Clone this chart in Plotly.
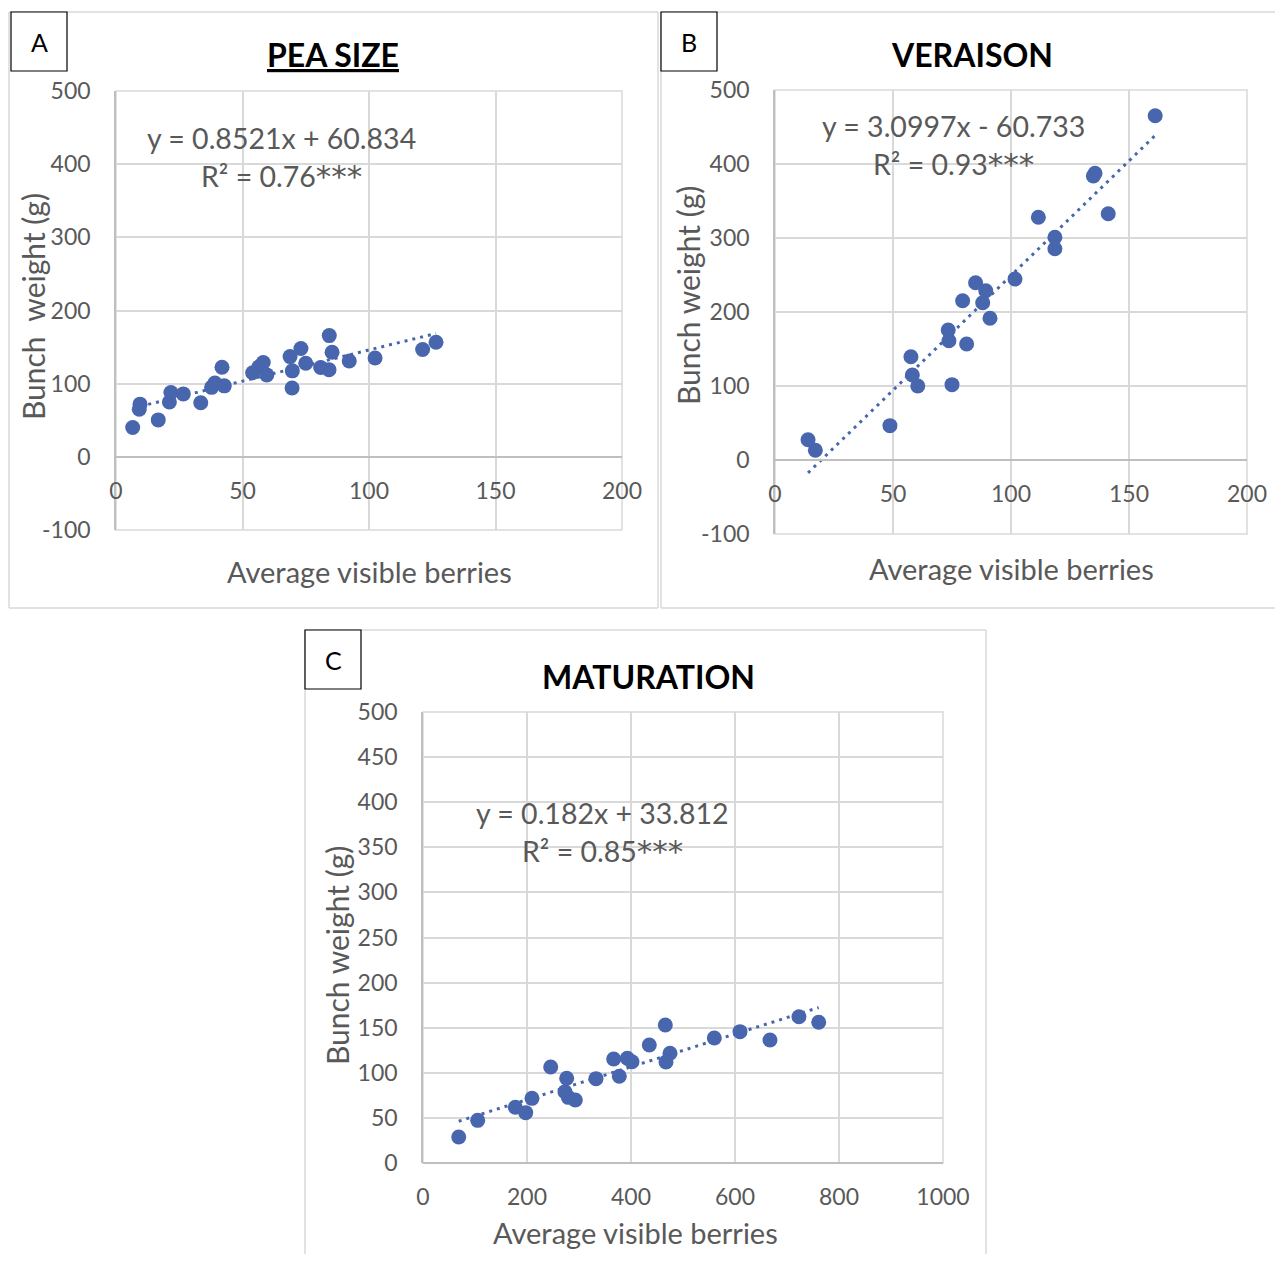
import plotly.graph_objects as go

PW, PH = 1283, 1262
OX, OY = 8, 8
W, H = PW - 2 * OX, PH - 2 * OY
FONT = "Lato"
GRAY = "#595959"
GRID = "#d9d9d9"
AXLINE = "#bfbfbf"
BLUE = "#4866ae"

# ---------------- data ----------------
pea_x = [6.6, 9.2, 9.5, 16.7, 21.1, 21.7, 26.6, 33.5, 37.8, 39.1, 41.9, 42.8, 54.0, 56.5,
         58.2, 59.6, 68.8, 69.7, 69.6, 73.1, 75.0, 80.9, 84.3, 84.2, 85.4, 92.2, 102.4, 121.2, 126.5]
pea_y = [40, 65, 72, 50.5, 75, 88, 86, 74, 95, 101, 122.5, 97, 115, 123,
         129, 112, 137, 117.5, 94, 148, 128, 122, 165.7, 119, 143, 131, 135, 146.6, 156.7]
pea_slope, pea_icpt = 0.8521, 60.834

ver_x = [14.0, 17.1, 48.7, 57.6, 58.2, 60.5, 75.0, 73.4, 73.7, 81.2, 79.5, 85.0, 89.3, 88.0,
         91.1, 101.7, 111.6, 118.6, 118.6, 134.9, 135.6, 141.2, 161.1]
ver_y = [27.4, 13.1, 46.4, 139.6, 114.9, 100, 101.8, 175.7, 161.2, 156.8, 215.3, 239.6, 228.8, 212.6,
         191.5, 244.6, 328, 301, 285.5, 383.8, 387.4, 332.8, 465.3]
ver_slope, ver_icpt = 3.0997, -60.733

mat_x = [68.7, 105.2, 177.5, 197.5, 209.6, 245.6, 276.3, 273.0, 279.4, 292.9, 332.7, 366.7, 377.5,
         392.9, 401.9, 435.2, 466.0, 475.0, 467.3, 560.2, 609.6, 667.3, 723.0, 761.0]
mat_y = [28.8, 47.3, 61.8, 55.8, 71.7, 106.4, 93.9, 79.0, 72.8, 69.8, 93.5, 115.3, 96.1,
         116.1, 112.3, 130.8, 153.0, 121.6, 112.0, 138.6, 145.6, 136.4, 162.2, 156.0]
mat_slope, mat_icpt = 0.182, 33.812

# tick labels
ab_yticks = [-100, 0, 100, 200, 300, 400, 500]
ab_yticklabels = ["-100", "0", "100", "200", "300", "400", "500"]
ab_xticks = [0, 50, 100, 150, 200]
c_yticks = [0, 50, 100, 150, 200, 250, 300, 350, 400, 450, 500]
c_xticks = [0, 200, 400, 600, 800, 1000]

titles = ["PEA SIZE", "VERAISON", "MATURATION"]
panel_letters = ["A", "B", "C"]
eq_lines = [("y = 0.8521x + 60.834", "R² = 0.76", "***"),
            ("y = 3.0997x - 60.733", "R² = 0.93", "***"),
            ("y = 0.182x + 33.812", "R² = 0.85", "***")]
ytitles = ["Bunch\u00a0 weight (g)", "Bunch weight (g)", "Bunch weight (g)"]
xtitle = "Average visible berries"


def fx(px):
    return (px - OX) / W


def fy(py):
    return 1 - (py - OY) / H


fig = go.Figure()

series = [(pea_x, pea_y, pea_slope, pea_icpt, "x", "y"),
          (ver_x, ver_y, ver_slope, ver_icpt, "x2", "y2"),
          (mat_x, mat_y, mat_slope, mat_icpt, "x3", "y3")]

for xs, ys, m, b, xa, ya in series:
    x0, x1 = min(xs), max(xs)
    fig.add_trace(go.Scatter(x=[x0, x1], y=[m * x0 + b, m * x1 + b], mode="lines",
                             line=dict(color=BLUE, width=3, dash="3px,5px"),
                             xaxis=xa, yaxis=ya, showlegend=False, hoverinfo="skip"))
    fig.add_trace(go.Scatter(x=xs, y=ys, mode="markers",
                             marker=dict(color=BLUE, size=15, line=dict(width=0)),
                             xaxis=xa, yaxis=ya, showlegend=False))

tickfont = dict(family=FONT, size=23, color=GRAY)


def xax(dom, rng, ticks, pos):
    return dict(domain=dom, range=rng, tickmode="array", tickvals=ticks,
                ticktext=[str(t) for t in ticks], anchor="free", position=pos,
                showgrid=True, gridcolor=GRID, gridwidth=1.5, zeroline=False,
                showline=True, linecolor=AXLINE, linewidth=1.5, automargin=False,
                ticks="outside", ticklen=14, tickcolor="rgba(0,0,0,0)",
                tickfont=tickfont, fixedrange=True)


def yax(dom, rng, ticks, labels, anchor):
    return dict(domain=dom, range=rng, tickmode="array", tickvals=ticks, ticktext=labels,
                anchor=anchor,
                showgrid=True, gridcolor=GRID, gridwidth=1.5, zeroline=False,
                showline=True, linecolor=AXLINE, linewidth=1.5, automargin=False,
                ticks="outside", ticklen=19, tickcolor="rgba(0,0,0,0)",
                tickfont=tickfont, fixedrange=True)


fig.update_layout(
    template="none",
    xaxis=xax([fx(116), fx(622)], [0, 200], ab_xticks, fy(457)),
    yaxis=yax([fy(530), fy(91)], [-100, 500], ab_yticks, ab_yticklabels, "x"),
    xaxis2=xax([fx(775), fx(1247)], [0, 200], ab_xticks, fy(460)),
    yaxis2=yax([fy(534), fy(90)], [-100, 500], ab_yticks, ab_yticklabels, "x2"),
    xaxis3=xax([fx(423), fx(943)], [0, 1000], c_xticks, fy(1163)),
    yaxis3=yax([fy(1163), fy(712)], [0, 500], c_yticks, [str(t) for t in c_yticks], "x3"),
)

shapes = []
annotations = []

for xa, ya in [("x", "y"), ("x2", "y2"), ("x3", "y3")]:
    shapes.append(dict(type="rect", xref=f"{xa} domain", yref=f"{ya} domain",
                       x0=0, x1=1, y0=0, y1=1, line=dict(color=GRID, width=1.5), layer="below"))


def pline(x0, y0, x1, y1, color=GRID, width=1.5):
    shapes.append(dict(type="line", xref="paper", yref="paper",
                       x0=fx(x0), y0=fy(y0), x1=fx(x1), y1=fy(y1),
                       line=dict(color=color, width=width)))


pline(9, 12, 658, 12); pline(9, 12, 9, 608); pline(658, 12, 658, 608); pline(9, 608, 658, 608)
pline(661, 12, 1290, 12); pline(661, 12, 661, 608); pline(661, 608, 1290, 608)
pline(305, 630, 986, 630); pline(305, 630, 305, 1270); pline(986, 630, 986, 1270)

for (bx, by), letter in zip([(11, 12), (661, 12), (305, 630)], panel_letters):
    shapes.append(dict(type="rect", xref="paper", yref="paper",
                       x0=fx(bx), x1=fx(bx + 56), y0=fy(by + 59), y1=fy(by),
                       line=dict(color="black", width=1.2), fillcolor="white"))
    annotations.append(dict(text=letter, x=fx(bx + 28), y=fy(by + 30), xref="paper", yref="paper",
                            showarrow=False, xanchor="center", yanchor="middle",
                            font=dict(family=FONT, size=25, color="black")))


def ann(text, cx, cy, size, color=GRAY, angle=0, bold=False):
    annotations.append(dict(text=text, x=fx(cx), y=fy(cy), xref="paper", yref="paper",
                            showarrow=False, xanchor="center", yanchor="middle",
                            textangle=angle,
                            font=dict(family=FONT, size=size, color=color,
                                      weight="bold" if bold else "normal")))


ann('<span style="text-decoration:underline">' + titles[0] + '</span>', 333, 55, 32, "black", bold=True)
ann(titles[1], 972, 55, 32, "black", bold=True)
ann(titles[2], 648, 676, 32, "black", bold=True)

for (l1, l2, stars), (cx, cy1, cy2) in zip(eq_lines, [(281, 138, 176), (953, 126, 164), (602, 813, 851)]):
    ann(l1, cx, cy1, 28.5)
    ann(l2 + "<span style=\"font-family:'DejaVu Sans';font-size:31px\">" + stars + "</span>",
        cx, cy2, 28.5)

for t, (cx, cy) in zip(ytitles, [(33, 307), (688, 296), (337, 956)]):
    ann(t, cx, cy, 30, angle=-90)
for cx, cy in [(369, 571), (1011, 568), (635, 1232)]:
    ann(xtitle, cx, cy, 29)

fig.update_layout(width=W, height=H, margin=dict(l=0, r=0, t=0, b=0, pad=0),
                  paper_bgcolor="white", plot_bgcolor="white",
                  shapes=shapes, annotations=annotations, showlegend=False)

fig.write_html("out.html", config={"displayModeBar": False})
